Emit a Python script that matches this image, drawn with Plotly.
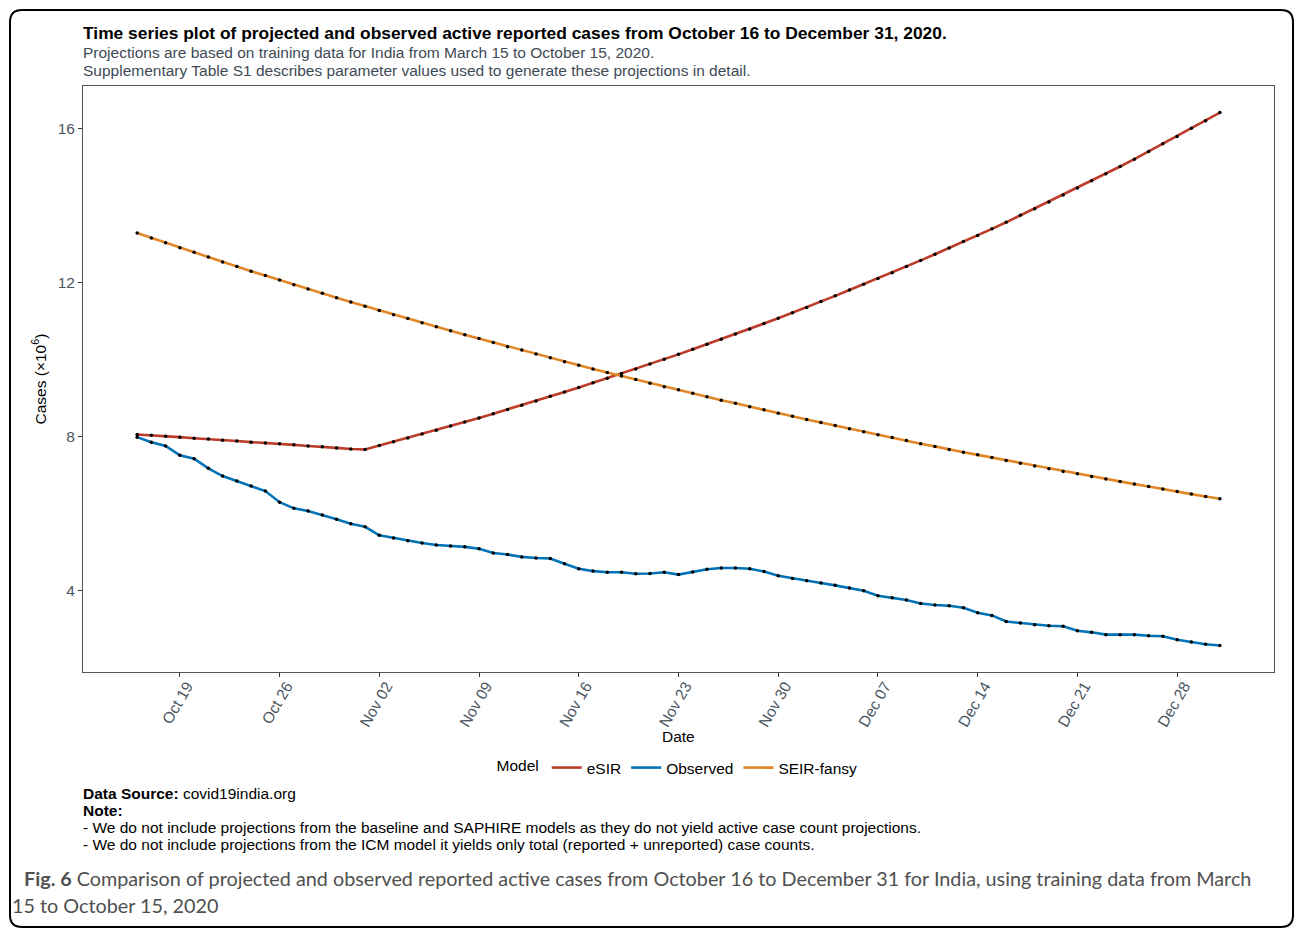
import pandas as pd
import plotly.graph_objects as go

# Daily dates of the projection window
dates = pd.date_range("2020-10-16", "2020-12-31", freq="D")

# Active reported cases (millions)
esir = [8.05, 8.03, 8.00, 7.98, 7.95, 7.93, 7.90, 7.88, 7.85, 7.83, 7.81, 7.78, 7.75, 7.73, 7.70, 7.67,
        7.66, 7.76, 7.86, 7.96, 8.06, 8.16, 8.27, 8.37, 8.48, 8.59, 8.70, 8.81, 8.92, 9.04, 9.15, 9.27,
        9.39, 9.51, 9.63, 9.75, 9.88, 10.00, 10.13, 10.26, 10.39, 10.52, 10.66, 10.79, 10.93, 11.07,
        11.21, 11.35, 11.50, 11.65, 11.80, 11.95, 12.10, 12.25, 12.41, 12.57, 12.73, 12.89, 13.06,
        13.22, 13.39, 13.56, 13.74, 13.91, 14.09, 14.27, 14.45, 14.64, 14.82, 15.01, 15.20, 15.40,
        15.60, 15.79, 16.00, 16.20, 16.41]

observed = [7.98, 7.85, 7.75, 7.51, 7.42, 7.17, 6.97, 6.84, 6.71, 6.58, 6.29, 6.13, 6.06, 5.96, 5.85,
            5.73, 5.65, 5.43, 5.36, 5.29, 5.23, 5.18, 5.15, 5.13, 5.08, 4.97, 4.93, 4.87, 4.84, 4.83,
            4.69, 4.56, 4.50, 4.47, 4.47, 4.43, 4.44, 4.47, 4.41, 4.48, 4.55, 4.58, 4.58, 4.56, 4.49,
            4.38, 4.31, 4.25, 4.19, 4.13, 4.06, 3.99, 3.86, 3.81, 3.75, 3.66, 3.62, 3.60, 3.55, 3.42,
            3.35, 3.19, 3.15, 3.11, 3.08, 3.07, 2.95, 2.91, 2.85, 2.85, 2.85, 2.82, 2.81, 2.72, 2.66,
            2.60, 2.57]

seir_fansy = [13.28, 13.15, 13.03, 12.90, 12.78, 12.66, 12.53, 12.41, 12.29, 12.18, 12.06, 11.94,
              11.83, 11.72, 11.60, 11.49, 11.38, 11.27, 11.16, 11.06, 10.95, 10.85, 10.74, 10.64,
              10.54, 10.44, 10.33, 10.24, 10.14, 10.04, 9.94, 9.85, 9.75, 9.66, 9.57, 9.48, 9.38,
              9.29, 9.21, 9.12, 9.03, 8.94, 8.86, 8.77, 8.69, 8.60, 8.52, 8.44, 8.36, 8.28, 8.20,
              8.12, 8.04, 7.97, 7.89, 7.81, 7.74, 7.66, 7.59, 7.52, 7.45, 7.37, 7.30, 7.23, 7.16,
              7.09, 7.03, 6.96, 6.89, 6.83, 6.76, 6.70, 6.63, 6.57, 6.50, 6.44, 6.38]

models = ["eSIR", "Observed", "SEIR-fansy"]
colors = ["#BC3C29", "#0072B5", "#E18727"]
y_ticks = [4, 8, 12, 16]
x_ticks = ["2020-10-19", "2020-10-26", "2020-11-02", "2020-11-09", "2020-11-16", "2020-11-23",
           "2020-11-30", "2020-12-07", "2020-12-14", "2020-12-21", "2020-12-28"]

W, H = 1295, 929
L, R, T, B = 83, 1274, 86, 672
FS = 15.5


def px(x):
    return (x - L) / (R - L)


def py(y):
    return (B - y) / (B - T)


fig = go.Figure()
series = [esir, observed, seir_fansy]
for name, col, vals in zip(models, colors, series):
    fig.add_trace(go.Scatter(x=dates, y=vals, mode="lines", name=name,
                             line=dict(color=col, width=2.6)))
for name, vals in zip(models, series):
    fig.add_trace(go.Scatter(x=dates, y=vals, mode="markers", showlegend=False,
                             marker=dict(color="black", size=3.5), hoverinfo="skip", name=name))

pad = pd.Timedelta(days=3.8)
fig.update_xaxes(
    range=[dates[0] - pad, dates[-1] + pad],
    tickvals=x_ticks, tickformat="%b %d", tickangle=-60,
    tickfont=dict(size=FS, color="#4a5561"),
    ticks="outside", ticklen=4, tickcolor="#333333", tickwidth=1,
    ticklabelstandoff=-6, ticklabelshift=7,
    showline=True, linecolor="#555555", linewidth=1, mirror=True,
    showgrid=False, zeroline=False,
)
fig.update_yaxes(
    range=[1.88, 17.1], tickvals=y_ticks,
    tickfont=dict(size=FS, color="#4a5561"),
    ticks="outside", ticklen=4, tickcolor="#333333", tickwidth=1,
    showline=True, linecolor="#555555", linewidth=1, mirror=True,
    showgrid=False, zeroline=False,
    title=dict(text="Cases (\u00d710<sup>6</sup>)", font=dict(size=FS, color="black"), standoff=7),
)

annotations = [
    dict(x=px(81), y=py(33), text="<b>Time series plot of projected and observed active reported cases from October 16 to December 31, 2020.</b>",
         font=dict(size=17.4, color="black")),
    dict(x=px(81), y=py(53), text="Projections are based on training data for India from March 15 to October 15, 2020.",
         font=dict(size=FS, color="#3e4a56")),
    dict(x=px(81), y=py(71), text="Supplementary Table S1 describes parameter values used to generate these projections in detail.",
         font=dict(size=FS, color="#3e4a56")),
    dict(x=0.5, y=py(736), text="Date", font=dict(size=FS, color="black"), xanchor="center"),
    dict(x=px(81), y=py(793), text="<b>Data Source:</b> covid19india.org", font=dict(size=FS, color="black")),
    dict(x=px(81), y=py(810), text="<b>Note:</b>", font=dict(size=FS, color="black")),
    dict(x=px(81), y=py(827), text="- We do not include projections from the baseline and SAPHIRE models as they do not yield active case count projections.",
         font=dict(size=FS, color="black")),
    dict(x=px(81), y=py(844), text="- We do not include projections from the ICM model it yields only total (reported + unreported) case counts.",
         font=dict(size=FS, color="black")),
    dict(x=px(22), y=py(878), text="<b>Fig. 6</b> Comparison of projected and observed reported active cases from October 16 to December 31 for India, using training data from March",
         font=dict(size=19.8, color="#505050", family="Lato")),
    dict(x=px(10), y=py(905), text="15 to October 15, 2020",
         font=dict(size=19.8, color="#505050", family="Lato")),
]
for a in annotations:
    a.setdefault("xanchor", "left")
    a.update(xref="paper", yref="paper", yanchor="middle", showarrow=False)

# Rounded frame around the whole figure
x0, x1, y0, y1, r = px(10), px(1293), py(10), py(927), 12
rx, ry = r / (R - L), r / (B - T)
frame = (f"M {x0 + rx},{y0} L {x1 - rx},{y0} Q {x1},{y0} {x1},{y0 - ry} "
         f"L {x1},{y1 + ry} Q {x1},{y1} {x1 - rx},{y1} "
         f"L {x0 + rx},{y1} Q {x0},{y1} {x0},{y1 + ry} "
         f"L {x0},{y0 - ry} Q {x0},{y0} {x0 + rx},{y0} Z")

fig.update_layout(
    width=W, height=H,
    margin=dict(l=L, r=W - R, t=T, b=H - B),
    paper_bgcolor="white", plot_bgcolor="white",
    font=dict(family="Liberation Sans, Arial, sans-serif", size=FS, color="black"),
    legend=dict(orientation="h", x=0.5, xanchor="center", y=py(768), yanchor="middle",
                title=dict(text="Model", font=dict(size=FS)), font=dict(size=FS),
                itemwidth=30, tracegroupgap=0),
    annotations=annotations,
    shapes=[dict(type="path", path=frame, xref="paper", yref="paper",
                 line=dict(color="black", width=2), layer="below")],
)

fig.write_html("out.html")
